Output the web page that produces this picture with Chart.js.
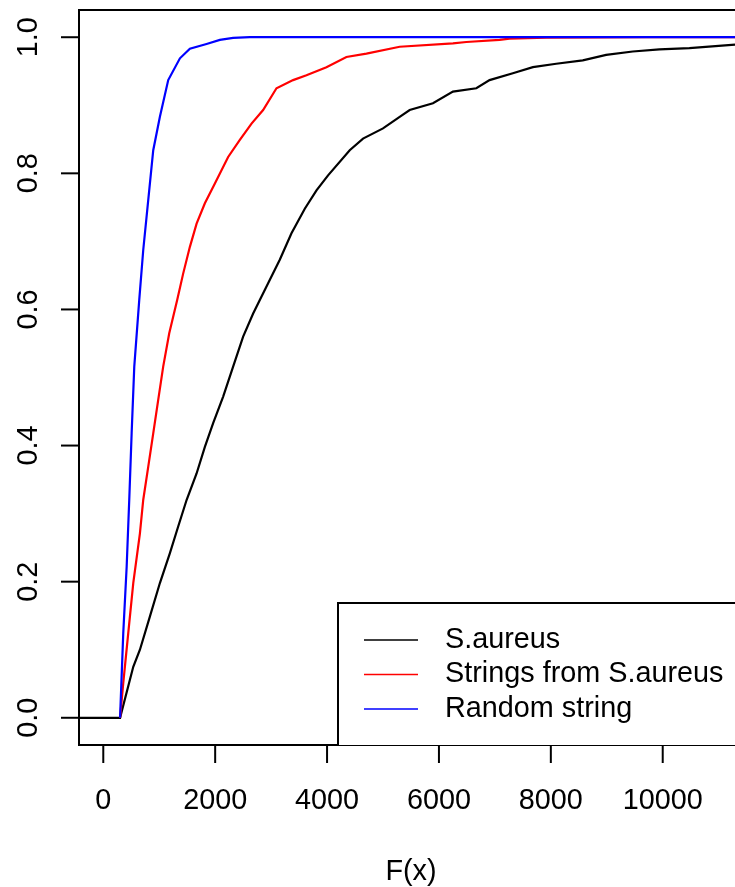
<!DOCTYPE html>
<html>

<head>
  <title>ECDF chart</title>
  <script src="https://cdn.jsdelivr.net/npm/chart.js"></script>
  <style>
    body { margin: 0; background: #fff; }
    canvas { display: block; }
  </style>
</head>

<body>
  <canvas id="ecdf" width="735" height="887"></canvas>

  <script>
    // series names + colours
    var seriesNames = ['S.aureus', 'Strings from S.aureus', 'Random string'];
    var seriesColors = ['#000000', '#FF0000', '#0000FF'];

    // S.aureus (black)
    var saureusX = [-434, 300, 536, 655, 834, 1012, 1191, 1339, 1489, 1668, 1816, 1964, 2143, 2321, 2500, 2679, 2798,
      3155, 3364, 3602, 3811, 4018, 4405, 4643, 5000, 5298, 5477, 5893, 6250, 6668, 6905, 7321, 7679, 8096, 8571,
      8989, 9464, 9941, 10477, 11292];
    var saureusY = [0, 0, 0.075, 0.1, 0.149, 0.198, 0.242, 0.281, 0.32, 0.359, 0.398, 0.433, 0.472, 0.516, 0.56, 0.594, 0.614,
      0.673, 0.712, 0.748, 0.775, 0.797, 0.834, 0.851, 0.866, 0.883, 0.893, 0.903, 0.92, 0.925, 0.937, 0.947, 0.956, 0.961, 0.966,
      0.974, 0.979, 0.982, 0.984, 0.989];

    // Strings from S.aureus (red)
    var stringsX = [300, 357, 446, 536, 655, 714, 804, 893, 982, 1071, 1179, 1321, 1429, 1548, 1668, 1816, 1995, 2232,
      2441, 2650, 2857, 3096, 3393, 3632, 3989, 4346, 4704, 5298, 6250, 6489, 7084, 7262, 7918, 9702, 11292];
    var stringsY = [0, 0.051, 0.124, 0.198, 0.271, 0.32, 0.369, 0.418, 0.467, 0.516, 0.565, 0.614, 0.653, 0.692, 0.726, 0.756, 0.785, 0.824,
      0.849, 0.873, 0.893, 0.925, 0.937, 0.944, 0.956, 0.971, 0.976, 0.986, 0.991, 0.993, 0.996, 0.998, 0.9995, 1, 1];

    // Random string (blue)
    var randomX = [300, 357, 418, 464, 507, 554, 643, 714, 804, 893, 1012, 1161, 1370, 1548, 1846, 2084, 2321, 2620, 11292];
    var randomY = [0, 0.124, 0.222, 0.32, 0.418, 0.516, 0.614, 0.687, 0.761, 0.834, 0.883, 0.937, 0.969, 0.983, 0.99, 0.996, 0.999, 1, 1];

    // axes
    var xMin = -434, xMax = 11292;
    var yMin = -0.04, yMax = 1.04;
    var xTicks = [0, 2000, 4000, 6000, 8000, 10000];
    var xTickLabels = ['0', '2000', '4000', '6000', '8000', '10000'];
    var yTicks = [0, 0.2, 0.4, 0.6, 0.8, 1.0];
    var yTickLabels = ['0.0', '0.2', '0.4', '0.6', '0.8', '1.0'];
    var xTitle = 'F(x)';

    function toPoints(xs, ys) {
      return xs.map(function (x, i) { return { x: x, y: ys[i] }; });
    }

    var FONT = '28.8px "Liberation Sans", Arial, sans-serif';

    // R style axes, box and legend
    var rStyle = {
      id: 'rStyle',
      afterDraw: function (chart) {
        var c = chart.ctx;
        var a = chart.chartArea;
        var xs = chart.scales.x, ys = chart.scales.y;
        c.save();
        c.strokeStyle = '#000';
        c.fillStyle = '#000';
        c.lineWidth = 2;

        // box (right side is off the picture)
        c.beginPath();
        c.moveTo(a.right + 5, a.top); c.lineTo(a.left, a.top);
        c.lineTo(a.left, a.bottom); c.lineTo(a.right + 5, a.bottom);
        c.stroke();

        c.font = FONT;
        // x ticks
        c.textAlign = 'center';
        c.textBaseline = 'alphabetic';
        xs.ticks.forEach(function (t, i) {
          var px = xs.getPixelForValue(t.value);
          c.beginPath(); c.moveTo(px, a.bottom); c.lineTo(px, a.bottom + 18); c.stroke();
          c.fillText(xTickLabels[i], px, a.bottom + 64);
        });
        // y ticks
        ys.ticks.forEach(function (t, i) {
          var py = ys.getPixelForValue(t.value);
          c.beginPath(); c.moveTo(a.left, py); c.lineTo(a.left - 18, py); c.stroke();
          c.save();
          c.translate(a.left - 42, py);
          c.rotate(-Math.PI / 2);
          c.fillText(yTickLabels[i], 0, 0);
          c.restore();
        });
        // x title
        c.fillText(xTitle, (a.left + a.right) / 2 + 4, 880);

        // legend
        var lx = 338, ly = 603;
        c.fillStyle = '#fff';
        c.fillRect(lx, ly, a.right - lx + 5, a.bottom - ly);
        c.beginPath();
        c.moveTo(a.right + 5, ly); c.lineTo(lx, ly); c.lineTo(lx, a.bottom);
        c.stroke();
        c.textAlign = 'left';
        c.textBaseline = 'middle';
        chart.data.datasets.forEach(function (ds, i) {
          var yy = 640 + i * 34.5;
          c.strokeStyle = ds.borderColor;
          c.lineWidth = 1.5;
          c.beginPath(); c.moveTo(364, yy); c.lineTo(418, yy); c.stroke();
          c.fillStyle = '#000';
          c.fillText(ds.label, 445, yy);
        });
        c.restore();
      }
    };

    var ctx = document.getElementById('ecdf').getContext('2d');
    var chart = new Chart(ctx, {
      type: 'line',
      data: {
        datasets: [{
          label: seriesNames[0],
          data: toPoints(saureusX, saureusY),
          borderColor: seriesColors[0],
          order: 2
        }, {
          label: seriesNames[1],
          data: toPoints(stringsX, stringsY),
          borderColor: seriesColors[1],
          order: 1
        }, {
          label: seriesNames[2],
          data: toPoints(randomX, randomY),
          borderColor: seriesColors[2],
          order: 0
        }]
      },
      options: {
        responsive: false,
        animation: false,
        devicePixelRatio: 1,
        elements: {
          line: { borderWidth: 2.2, tension: 0, fill: false },
          point: { radius: 0 }
        },
        layout: { padding: { left: 79, top: 10, right: 0, bottom: 142 } },
        plugins: {
          legend: { display: false },
          tooltip: { enabled: false }
        },
        scales: {
          x: {
            type: 'linear',
            display: false,
            min: xMin,
            max: xMax,
            afterBuildTicks: function (scale) {
              scale.ticks = xTicks.map(function (v) { return { value: v }; });
            }
          },
          y: {
            type: 'linear',
            display: false,
            min: yMin,
            max: yMax,
            afterBuildTicks: function (scale) {
              scale.ticks = yTicks.map(function (v) { return { value: v }; });
            }
          }
        }
      },
      plugins: [rStyle]
    });
  </script>
</body>

</html>
